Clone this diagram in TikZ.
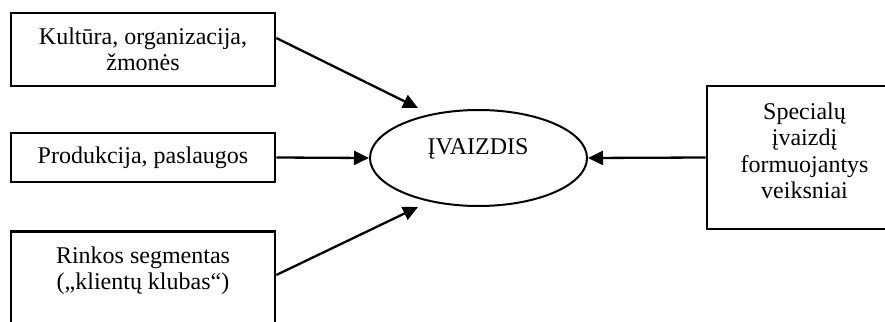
\documentclass[tikz,border=0pt]{standalone}
\usepackage{fontspec}
\setmainfont{Liberation Serif}
\usetikzlibrary{arrows.meta,calc,shapes.geometric}

\begin{document}
\begin{tikzpicture}[x=1pt,y=1pt,
  every node/.style={font=\fontsize{24}{26.3}\selectfont},
  box/.style={draw, line width=2.6pt, rectangle, inner sep=0pt, align=center},
  oval/.style={draw, line width=2pt, ellipse, inner sep=0pt},
  conn/.style={line width=2.3pt, -{Triangle[length=15pt,width=14pt]}}]
  \useasboundingbox (0,0) rectangle (885,-321);
  \clip (0,0) rectangle (885,-321);

  % left-hand factor boxes
  \node[box, minimum width=264, minimum height=73] (b1) at (143,-49.5)
    {Kultūra, organizacija,\\žmonės};
  \node[box, minimum width=264, minimum height=49] (b2) at (143,-157.5)
    {Produkcija, paslaugos};
  \node[box, minimum width=264, minimum height=130, anchor=north] (b3) at (143,-230) {};
  \node[anchor=base, align=center, inner sep=0pt] (b3t) at (143,-289.3)
    {Rinkos segmentas\\(„klientų klubas“)};

  % central image
  \node[oval, minimum width=217, minimum height=96] (e) at (478.5,-158) {};
  \node[inner sep=0pt, anchor=base] (et) at (478,-154) {ĮVAIZDIS};

  % right-hand factor box
  \node[box, minimum width=195, minimum height=143] (b4) at (804.5,-157.5) {};
  \node[anchor=base, align=center, inner sep=0pt] (b4t) at (804.5,-198.5)
    {Specialų\\įvaizdį\\formuojantys\\veiksniai};

  % arrow tips near the ellipse
  \coordinate (t1) at ($(e.center)+(-60.5,50)$);
  \coordinate (t3) at ($(e.center)+(-60.5,-49)$);
  \coordinate (s1) at ($(b1.east)+(0,11.5)$);
  \coordinate (s3) at ($(b3.north east)+(0,-45)$);

  \draw[conn] (s1) -- (t1);
  \draw[conn] (b2.east) -- (e.west);
  \draw[conn] (s3) -- (t3);
  \draw[conn] (b4.west) -- (e.east);
\end{tikzpicture}
\end{document}
